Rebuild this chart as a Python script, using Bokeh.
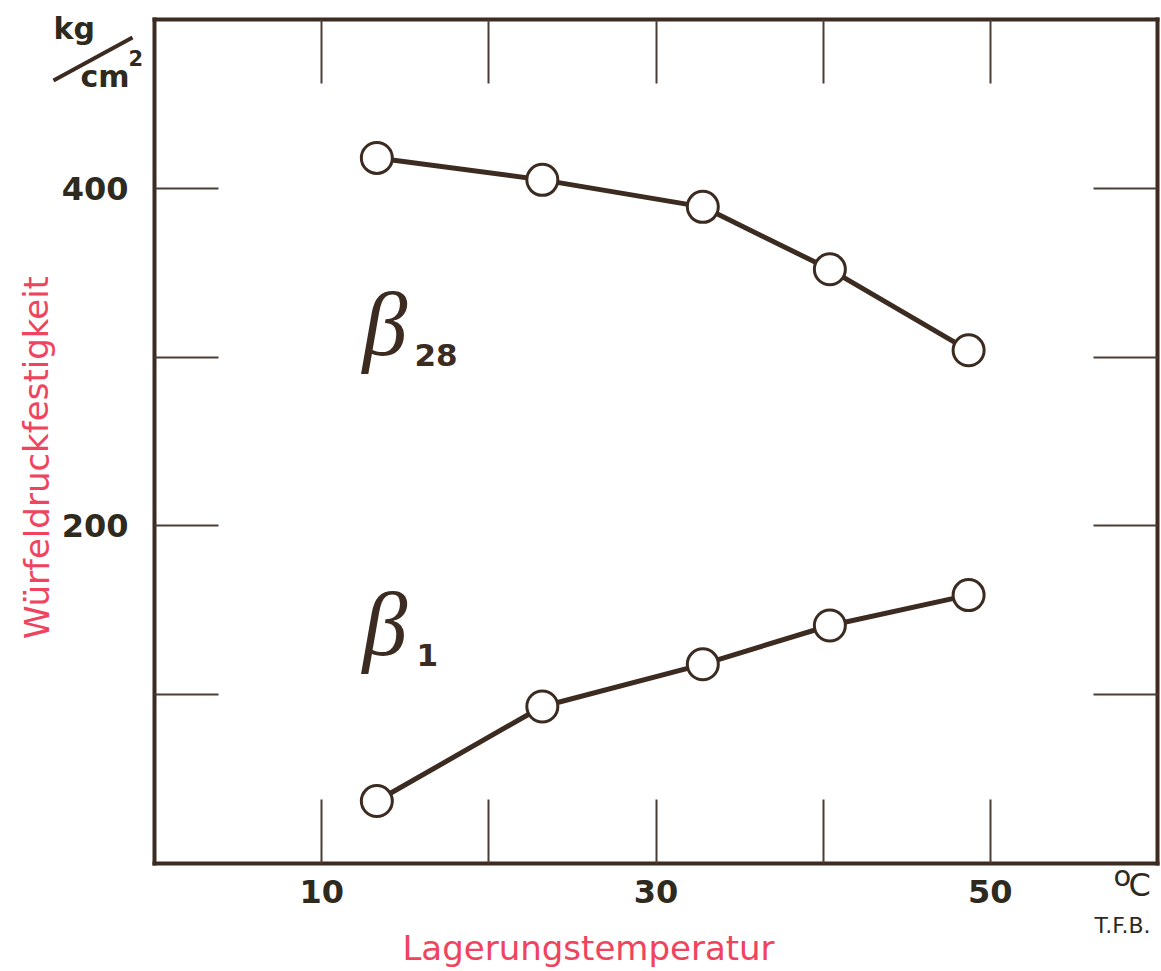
from bokeh.plotting import figure
from bokeh.models import LinearAxis, FixedTicker, Label, Range1d, Arrow
from bokeh.embed import file_html
from bokeh.resources import INLINE

# ---- data ----
temps = [13.3, 23.2, 32.8, 40.4, 48.7]          # Lagerungstemperatur, °C
beta28 = [418, 405, 389, 352, 304]              # kg/cm², 28 days
beta1 = [37, 93, 118, 141, 159]                 # kg/cm², 1 day

x_ticks = [10, 20, 30, 40, 50]
x_tick_labels = {10: "10", 20: "", 30: "30", 40: "", 50: "50"}
y_ticks = [100, 200, 300, 400]
y_tick_labels = {100: "", 200: "200", 300: "", 400: "400"}
X_MIN, X_MAX = 0, 60
Y_MIN, Y_MAX = 0, 500

INK = "#3b2b20"
TICK = "#4a3d35"
TXT = "#2e2a1e"
RED = "#f0435e"
FONT = "DejaVu Sans"

# canvas geometry: the chart box sits at px 154..1157 (x) and 19..863 (y)
W, H = 1160, 969
BOX_L, BOX_R, BOX_T, BOX_B = 154, 1157, 19, 863
sx = (BOX_R - BOX_L) / (X_MAX - X_MIN)
sy = (BOX_B - BOX_T) / (Y_MAX - Y_MIN)
x_range = Range1d(X_MIN - BOX_L / sx, X_MAX + (W - BOX_R) / sx)
y_range = Range1d(Y_MIN - (H - BOX_B) / sy, Y_MAX + BOX_T / sy)


def fx(px):
    return X_MIN + (px - BOX_L) / sx


def fy(py):
    return Y_MIN + (BOX_B - py) / sy


p = figure(width=W, height=H, x_range=x_range, y_range=y_range,
           output_backend="svg", toolbar_location=None,
           x_axis_location=None, y_axis_location=None,
           min_border_left=0, min_border_right=0, min_border_top=0, min_border_bottom=0)
p.grid.visible = False
p.outline_line_color = None
p.background_fill_color = "white"
p.border_fill_color = "white"


def make_axis(ticks, labels, show_labels, loc, bounds):
    ax = LinearAxis(ticker=FixedTicker(ticks=ticks), fixed_location=loc, bounds=bounds)
    ax.major_label_overrides = labels if show_labels else {t: "" for t in ticks}
    ax.major_tick_in = 64
    ax.major_tick_out = 0
    ax.major_tick_line_color = TICK
    ax.major_tick_line_width = 2
    ax.minor_tick_line_color = None
    ax.axis_line_color = INK
    ax.axis_line_width = 4
    ax.axis_line_cap = "square"
    if show_labels:
        ax.major_label_text_font = FONT
        ax.major_label_text_font_size = "32px"
        ax.major_label_text_font_style = "bold"
        ax.major_label_text_color = TXT
    else:
        ax.major_label_text_font_size = "0px"
        ax.major_label_standoff = 0
    return ax


bottom = make_axis(x_ticks, x_tick_labels, True, Y_MIN, (X_MIN, X_MAX))
bottom.major_label_standoff = 16
left = make_axis(y_ticks, y_tick_labels, True, X_MIN, (Y_MIN, Y_MAX))
left.major_label_standoff = 26
top = make_axis(x_ticks, x_tick_labels, False, Y_MAX, (X_MIN, X_MAX))
right = make_axis(y_ticks, y_tick_labels, False, X_MAX, (Y_MIN, Y_MAX))
p.add_layout(bottom, "below")
p.add_layout(left, "left")
p.add_layout(top, "above")
p.add_layout(right, "right")

# ---- series ----
for ys in (beta28, beta1):
    p.line(temps, ys, line_color=INK, line_width=5)
    p.scatter(temps, ys, size=31, fill_color="white", line_color=INK, line_width=3)

BL = 0.34  # bokeh draws the alphabetic baseline about 0.34 em below the anchor


def lab(px, base_py, text, size, style="normal", color=TXT, font=FONT, **kw):
    return Label(x=fx(px), y=fy(base_py - BL * size), text=text, text_font=font,
                 text_font_size=f"{size}px", text_font_style=style, text_color=color,
                 text_baseline="alphabetic", **kw)


# ---- series labels ----
p.add_layout(lab(362, 355, "β", 90, "italic", INK, "Liberation Serif"))
p.add_layout(lab(414, 365, "28", 31, "bold", INK))
p.add_layout(lab(362, 655, "β", 90, "italic", INK, "Liberation Serif"))
p.add_layout(lab(416, 665, "1", 31, "bold", INK))

# ---- axis titles ----
p.add_layout(Label(x=fx(36), y=fy(457), text="Würfeldruckfestigkeit", text_font=FONT,
                   text_font_size="34px", text_color=RED, angle=1.5708,
                   text_align="center", text_baseline="middle"))
p.add_layout(lab(588, 959, "Lagerungstemperatur", 34, color=RED, text_align="center"))

# ---- unit labels ----
p.add_layout(lab(53, 38, "kg", 30, "bold"))
p.add_layout(lab(80, 86, "cm", 30, "bold"))
p.add_layout(lab(128, 65, "2", 21, "bold"))
p.add_layout(Arrow(x_start=fx(53), y_start=fy(80), x_end=fx(132), y_end=fy(37), end=None,
                   line_color=INK, line_width=4))

p.add_layout(lab(1113, 885, "o", 29))
p.add_layout(lab(1128, 895, "C", 32))
p.add_layout(lab(1094, 932, "T.F.B.", 22))

open("out.html", "w").write(file_html(p, INLINE))
